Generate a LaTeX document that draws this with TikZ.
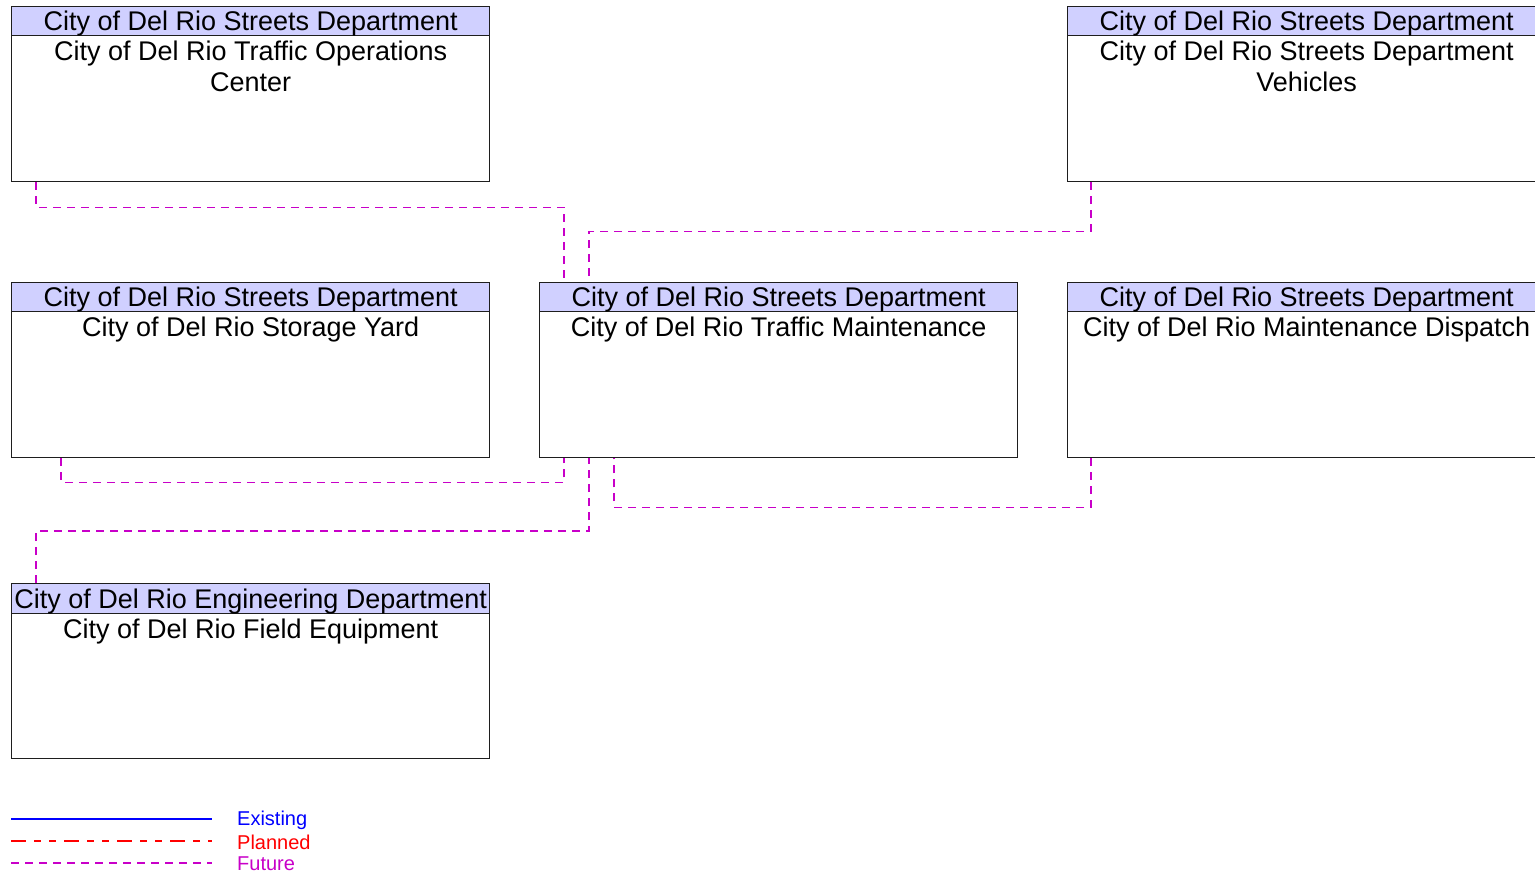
\documentclass[tikz,border=0pt]{standalone}
\usepackage{fontspec}
\setmainfont{Liberation Sans}
\usetikzlibrary{calc}
\definecolor{hdr}{RGB}{208,208,255}
\definecolor{fut}{RGB}{200,0,200}
\definecolor{edge}{RGB}{30,30,30}
\tikzset{
  box/.style={draw=edge, line width=1.4pt, fill=white, minimum width=478pt, minimum height=175pt, anchor=north west, inner sep=0pt},
  hdrbox/.style={draw=edge, line width=1.4pt, fill=hdr, minimum width=478pt, minimum height=29pt, anchor=north west, inner sep=0pt, text height=22pt, text depth=3pt, font=\fontsize{27}{30}\selectfont},
  body/.style={anchor=north, align=center, font=\fontsize{27}{31}\selectfont, inner sep=0pt},
  future/.style={draw=fut, line width=1.4pt, dash pattern=on 8pt off 6pt},
  planned/.style={draw=red, line width=1.4pt, dash pattern=on 15pt off 8pt on 7pt off 8pt on 7pt off 8pt},
  existing/.style={draw=blue, line width=2pt},
  legtext/.style={anchor=west, inner sep=0pt, font=\fontsize{20}{22}\selectfont},
}
\begin{document}
\begin{tikzpicture}[x=1pt,y=-1pt]
\useasboundingbox (0,0) rectangle (1535,874);
\begin{scope}
\clip (0,0) rectangle (1535,874);
% boxes
\node[box] (toc) at (11,6) {};
\node[hdrbox] (toch) at (11,6) {City of Del Rio Streets Department};
\node[body] (tocb) at ([yshift=-4pt]toch.south) {City of Del Rio Traffic Operations\\Center};

\node[box] (veh) at (1067,6) {};
\node[hdrbox] (vehh) at (1067,6) {City of Del Rio Streets Department};
\node[body] (vehb) at ([yshift=-4pt]vehh.south) {City of Del Rio Streets Department\\Vehicles};

\node[box] (yard) at (11,282) {};
\node[hdrbox] (yardh) at (11,282) {City of Del Rio Streets Department};
\node[body] (yardb) at ([yshift=-4pt]yardh.south) {City of Del Rio Storage Yard};

\node[box] (tm) at (539,282) {};
\node[hdrbox] (tmh) at (539,282) {City of Del Rio Streets Department};
\node[body] (tmb) at ([yshift=-4pt]tmh.south) {City of Del Rio Traffic Maintenance};

\node[box] (md) at (1067,282) {};
\node[hdrbox] (mdh) at (1067,282) {City of Del Rio Streets Department};
\node[body] (mdb) at ([yshift=-4pt]mdh.south) {City of Del Rio Maintenance Dispatch};

\node[box] (fe) at (11,583) {};
\node[hdrbox, minimum height=30pt] (feh) at (11,583) {City of Del Rio Engineering Department};
\node[body] (feb) at ([yshift=-4pt]feh.south) {City of Del Rio Field Equipment};

% connectors
\draw[future] ([xshift=25pt]toc.south west) -- ++(0,25) -| ([xshift=25pt]tm.north west);
\draw[future] ([xshift=24pt]veh.south west) -- ++(0,49) -| ([xshift=50pt]tm.north west);
\draw[future] ([xshift=50pt]yard.south west) -- ++(0,24) -| ([xshift=25pt]tm.south west);
\draw[future] ([xshift=24pt]md.south west) -- ++(0,49) -| ([xshift=75pt]tm.south west);
\draw[future] ([xshift=25pt]fe.north west) -- ++(0,-52) -| ([xshift=50pt]tm.south west);
\end{scope}

% legend
\coordinate (e1) at (11,819); \coordinate (e2) at (212,819);
\coordinate (p1) at (11,841); \coordinate (p2) at (212,841);
\coordinate (f1) at (11,863); \coordinate (f2) at (212,863);
\draw[existing] (e1) -- (e2);
\draw[planned] (p1) -- (p2);
\draw[future] (f1) -- (f2);
\node[legtext, text=blue] (le) at (237,820) {Existing};
\node[legtext, text=red] (lp) at (237,842) {Planned};
\node[legtext, text=fut] (lf) at (237,864) {Future};
\end{tikzpicture}
\end{document}
